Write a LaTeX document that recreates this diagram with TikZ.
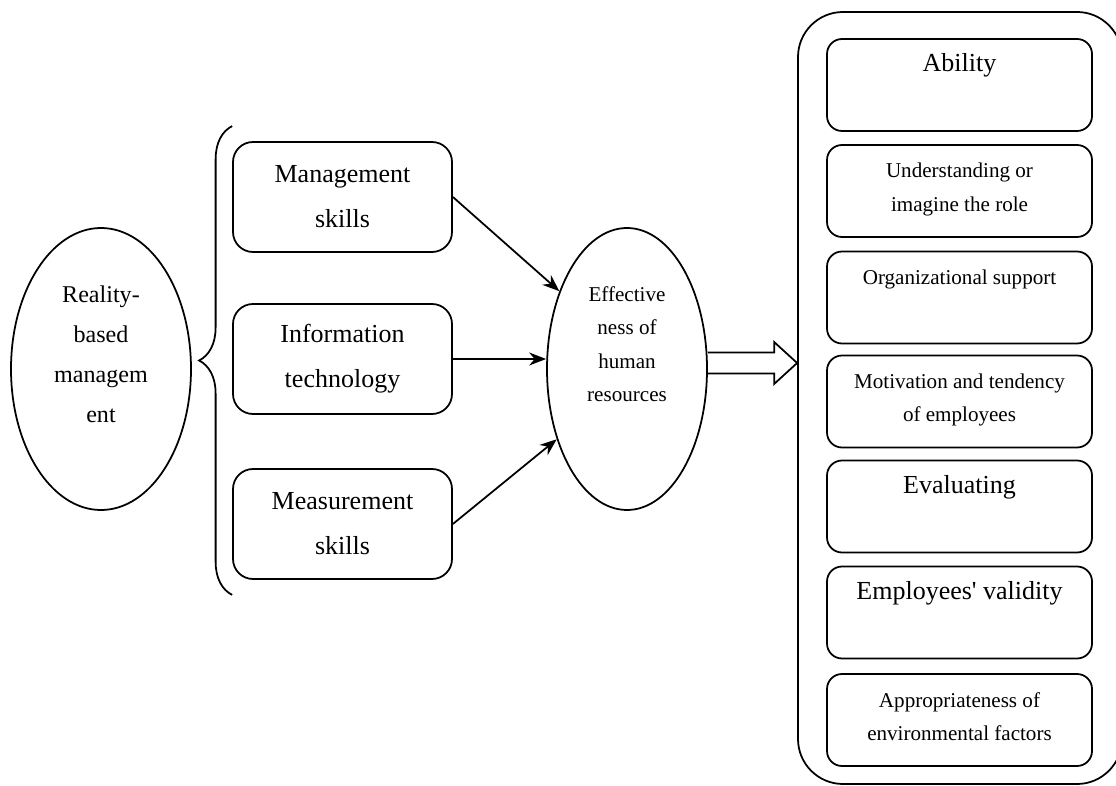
\documentclass[tikz,border=0pt]{standalone}
\usepackage{fontspec}
\setmainfont{Liberation Serif}
\usetikzlibrary{shapes.geometric,arrows.meta,decorations.pathreplacing,calc}

\newcommand{\bigsize}{\fontsize{14.8}{25.6}\selectfont}
\newcommand{\ovalsize}{\fontsize{13.7}{22.8}\selectfont}
\newcommand{\smallsize}{\fontsize{12}{19}\selectfont}
\newcommand{\factortext}[1]{\parbox[c][1.84cm][t]{5.3cm}{\centering\rule{0pt}{0.66cm}#1}}

\begin{document}
\begin{tikzpicture}[line width=1pt,
    oval/.style={draw, ellipse, inner sep=0pt},
    ovaltext/.style={align=center, inner sep=0pt},
    skill/.style={draw, rounded corners=0.4cm, minimum width=4.38cm, minimum height=2.2cm, align=center, font=\bigsize},
    factor/.style={draw, rounded corners=0.3cm, inner sep=0pt},
    link/.style={-{Stealth[length=0.34cm, width=0.26cm]}}]
        % Frame of the page
        \useasboundingbox (0,0) rectangle (22.32,15.7);

        % Reality-based management
        \node[oval, minimum width=3.6cm, minimum height=5.64cm,
              label={[ovaltext, font=\ovalsize, yshift=0.3cm]center:Reality-\\based\\managem\\ent}] (rbm) at (2.02,8.32) {};

        % Skills
        \node[skill] (ms) at (6.85,11.76) {Management\\skills};
        \node[skill] (it) at (6.85,8.52) {Information\\technology};
        \node[skill] (meas) at (6.85,5.22) {Measurement\\skills};

        % Brace
        \draw[decorate, decoration={brace, amplitude=0.66cm}] ($(meas.south west)+(0,-0.3)$) -- ($(ms.north west)+(0,0.3)$);

        % Effectiveness of human resources
        \node[oval, minimum width=3.2cm, minimum height=5.64cm,
              label={[ovaltext, font=\smallsize, yshift=0.5cm]center:Effective\\ness of\\human\\resources}] (eff) at (12.54,8.32) {};

        \draw[link] (ms.east) -- (eff.131);
        \draw[link] (it.east) -- (it.east -| eff.west);
        \draw[link] (meas.east) -- (eff.225);

        % Factors
        \node[draw, rounded corners=0.9cm, minimum width=6.48cm, minimum height=15.44cm] (frame) at (19.2,7.74) {};

        \node[factor] (abil) at (19.19,14.0) {\factortext{\bigsize Ability}};
        \node[factor] (role) at (19.19,11.88) {\factortext{\smallsize Understanding or\\imagine the role}};
        \node[factor] (supp) at (19.19,9.75) {\factortext{\smallsize Organizational support}};
        \node[factor] (moti) at (19.19,7.67) {\factortext{\smallsize Motivation and tendency\\of employees}};
        \node[factor] (eval) at (19.19,5.57) {\factortext{\bigsize Evaluating}};
        \node[factor] (vali) at (19.19,3.45) {\factortext{\bigsize Employees\textquotesingle{} validity}};
        \node[factor] (envi) at (19.19,1.3) {\factortext{\smallsize Appropriateness of\\environmental factors}};

        % Block arrow
        \coordinate (tip) at ($(eff.east -| frame.west)+(0,0.12)$);
        \draw ($(eff.east)+(0,0.33)$) -- ($(tip)+(-0.46,0.21)$) -- ($(tip)+(-0.46,0.42)$) -- (tip)
              -- ($(tip)+(-0.46,-0.42)$) -- ($(tip)+(-0.46,-0.21)$) -- ($(eff.east)+(0,-0.09)$);
\end{tikzpicture}
\end{document}
